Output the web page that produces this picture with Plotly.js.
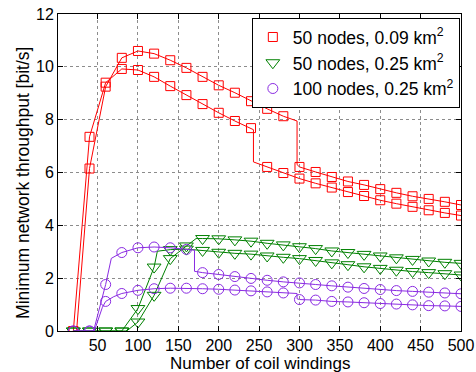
<!DOCTYPE html>
<html>
<head>
<meta charset="utf-8">
<script src="https://cdn.plot.ly/plotly-3.0.1.min.js"></script>
<style>html,body{margin:0;padding:0;background:#fff;}#chart{width:476px;height:372px;}</style>
</head>
<body>
<div id="chart"></div>
<script>
// Marker x positions (number of coil windings)
const xMarkers = [20,40,60,80,100,120,140,160,180,200,220,240,260,280,300,320,340,360,380,400,420,440,460,480,500];

// 50 nodes, 0.09 km^2 (two curves)
const redA = [0,7.35,9.4,9.92,9.88,9.62,9.27,8.93,8.59,8.26,7.95,7.68,6.21,5.98,5.77,5.59,5.43,5.26,5.11,4.95,4.82,4.7,4.57,4.47,4.37];
const redB = [0,6.15,9.25,10.34,10.6,10.5,10.25,9.96,9.62,9.3,9.02,8.7,8.41,8.13,6.21,6.02,5.83,5.66,5.53,5.37,5.23,5.1,5.0,4.89,4.77];
// extra line points (knees / steps)
const redAKneeX = [243,243];       const redAKneeY = [7.62,6.4];
const redBKneeX = [24,297,297];    const redBKneeY = [0,7.95,6.3];

// 50 nodes, 0.25 km^2 (two curves)
const greenA = [0,0,0,0,0.85,2.42,3.08,3.1,3.05,2.98,2.94,2.91,2.84,2.79,2.74,2.67,2.58,2.51,2.43,2.37,2.3,2.25,2.21,2.17,2.12];
const greenB = [0,0,0,0,0.34,1.35,2.74,3.22,3.5,3.49,3.45,3.4,3.32,3.26,3.19,3.12,3.03,2.97,2.9,2.84,2.77,2.71,2.65,2.6,2.56];
const greenAKneeX = [124];         const greenAKneeY = [3.02];
const greenBKneeX = [86,172];      const greenBKneeY = [0,3.5];

// 100 nodes, 0.25 km^2 (two curves)
const purpleA = [0,0,1.76,2.97,3.15,3.18,3.15,3.09,2.21,2.14,2.06,1.99,1.92,1.86,1.82,1.76,1.71,1.66,1.61,1.57,1.53,1.5,1.47,1.44,1.41];
const purpleB = [0,0,1.12,1.42,1.54,1.6,1.62,1.62,1.6,1.58,1.55,1.52,1.48,1.44,1.19,1.17,1.12,1.1,1.07,1.04,1.02,0.99,0.96,0.95,0.93];
const purpleAKneeX = [45,67,170,170]; const purpleAKneeY = [0,2.75,3.06,2.26];
const purpleBKneeX = [46,56,70,297,297]; const purpleBKneeY = [0,0.9,1.3,1.42,1.22];

const xTicks = [50,100,150,200,250,300,350,400,450,500];
const yTicks = [0,2,4,6,8,10,12];
const legendNames = ['50 nodes, 0.09 km<sup>2</sup>','50 nodes, 0.25 km<sup>2</sup>','100 nodes, 0.25 km<sup>2</sup>'];
const xTitle = 'Number of coil windings';
const yTitle = 'Minimum network throughput [bit/s]';

const RED = '#ff0000', GREEN = '#008000', PURPLE = '#8a2be2';

function merge(xs, ys, kx, ky) {
  const pts = xs.map((x, i) => ({x: x, y: ys[i], o: i}));
  kx.forEach((x, i) => pts.push({x: x, y: ky[i], o: 1000 + i}));
  pts.sort((a, b) => a.x - b.x || a.o - b.o);
  return {x: pts.map(p => p.x), y: pts.map(p => p.y)};
}

const groups = [
  {data: [[redA, redAKneeX, redAKneeY], [redB, redBKneeX, redBKneeY]], color: RED, symbol: 'square-open', size: 9, name: legendNames[0]},
  {data: [[greenA, greenAKneeX, greenAKneeY], [greenB, greenBKneeX, greenBKneeY]], color: GREEN, symbol: 'triangle-down-open', size: 12, name: legendNames[1]},
  {data: [[purpleA, purpleAKneeX, purpleAKneeY], [purpleB, purpleBKneeX, purpleBKneeY]], color: PURPLE, symbol: 'circle-open', size: 10, name: legendNames[2]}
];

const traces = [];
groups.forEach(g => {
  g.data.forEach((d, k) => {
    const m = merge(xMarkers, d[0], d[1], d[2]);
    traces.push({x: m.x, y: m.y, mode: 'lines', type: 'scatter', showlegend: false,
      line: {color: g.color, width: 1}, hoverinfo: 'skip'});
    traces.push({x: xMarkers, y: d[0], mode: 'markers', type: 'scatter', name: g.name,
      showlegend: k === 0, legendgroup: g.name,
      marker: {symbol: g.symbol, size: g.size, color: g.color, line: {color: g.color, width: 1}}});
  });
});

const axisCommon = {
  showline: true, linecolor: '#000', linewidth: 1, mirror: 'ticks',
  ticks: 'inside', ticklen: 5, tickcolor: '#000', tickwidth: 1,
  showgrid: true, gridcolor: '#8c8c8c', griddash: 'dot', gridwidth: 1,
  zeroline: false, tickfont: {size: 16, color: '#000'}, automargin: false
};

const layout = {
  width: 476, height: 372,
  margin: {l: 58, r: 15, t: 14, b: 41, autoexpand: false},
  paper_bgcolor: '#fff', plot_bgcolor: '#fff',
  font: {family: '"Liberation Sans", Arial, sans-serif', size: 16, color: '#000'},
  xaxis: Object.assign({}, axisCommon, {
    range: [1, 500], tickvals: xTicks, ticktext: xTicks.map(String)
  }),
  yaxis: Object.assign({}, axisCommon, {
    range: [0, 12], tickvals: yTicks, ticktext: yTicks.map(String)
  }),
  annotations: [{
    text: yTitle, xref: 'paper', yref: 'paper', x: -0.087, y: 0.467,
    xanchor: 'center', yanchor: 'middle', textangle: -90, showarrow: false,
    font: {size: 17.5, color: '#000'}
  }, {
    text: xTitle, xref: 'paper', yref: 'paper', x: 0.5, y: -0.102,
    xanchor: 'center', yanchor: 'middle', showarrow: false,
    font: {size: 17, color: '#000'}
  }],
  legend: {x: 0.481, y: 0.987, xanchor: 'left', yanchor: 'top', bgcolor: '#fff',
    bordercolor: '#000', borderwidth: 1, font: {size: 17.5}, itemwidth: 30, tracegroupgap: 0},
  showlegend: true
};

Plotly.newPlot('chart', traces, layout, {displayModeBar: false, staticPlot: true});
</script>
</body>
</html>
